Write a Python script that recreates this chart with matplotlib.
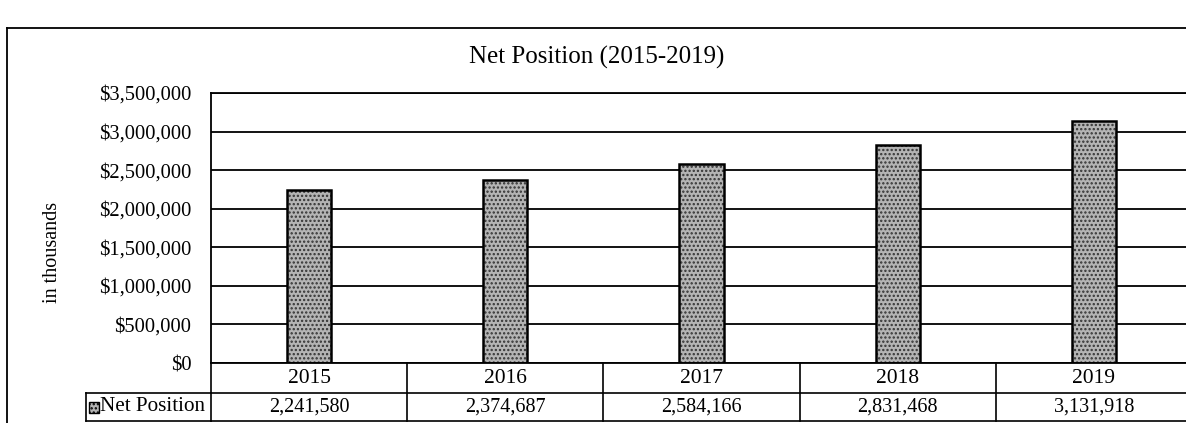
import matplotlib
matplotlib.use("Agg")
import matplotlib.pyplot as plt
import matplotlib.transforms as mtransforms
from matplotlib.lines import Line2D
from matplotlib.patches import Rectangle

years = ["2015", "2016", "2017", "2018", "2019"]
net_position = [2241580, 2374687, 2584166, 2831468, 3131918]
series_name = "Net Position"
y_ticks = [0, 500000, 1000000, 1500000, 2000000, 2500000, 3000000, 3500000]
title = "Net Position (2015-2019)"
y_label = "in thousands"

plt.rcParams["font.family"] = ["Liberation Serif", "DejaVu Serif"]
plt.rcParams["hatch.linewidth"] = 1.1

W, H = 1186, 423
fig = plt.figure(figsize=(W / 100, H / 100), dpi=100)


def fx(x):
    return x / W


def fy(y):
    return 1 - y / H


AX_L, AX_R, AX_T, AX_B = 211, 1192, 93, 363
ax = fig.add_axes([fx(AX_L), fy(AX_B), fx(AX_R) - fx(AX_L), fy(AX_T) - fy(AX_B)])
xs = list(range(len(years)))

# stippled fill, then a crisp outline on top
ax.bar(xs, net_position, width=0.225, color="#b4b4b4", edgecolor="#333333",
       hatch="....", linewidth=0, zorder=2)
ax.bar(xs, net_position, width=0.225, fill=False, edgecolor="black",
       linewidth=1.8, zorder=3)

ax.set_xlim(-0.5, len(years) - 0.5)
ax.set_ylim(0, y_ticks[-1])
ax.set_yticks(y_ticks)
ax.set_yticklabels([f"${v:,.0f}" for v in y_ticks])
ax.tick_params(axis="y", length=0, pad=14, labelsize=14.8)
ax.set_xticks([])
ax.grid(axis="y", color="black", linewidth=1.3, zorder=1)
ax.set_axisbelow(True)
for s in ax.spines.values():
    s.set_linewidth(1.3)
ax.spines["right"].set_visible(False)

ax_w_px = AX_R - AX_L
ax_h_px = AX_B - AX_T
ax.set_ylabel(y_label, fontsize=14.5)
ax.yaxis.set_label_coords((62 - AX_L) / ax_w_px, (AX_B - 252) / ax_h_px)

fig.text(fx(597), fy(57), title, ha="center", va="center", fontsize=18)

# data table under the plot area
blend = mtransforms.blended_transform_factory(ax.transData, ax.transAxes)
r0, r1, r2 = 0.0, -(393 - AX_B) / ax_h_px, -(421 - AX_B) / ax_h_px
lw = 1.2
n = len(years)
for r in (r1, r2):
    ax.add_line(Line2D([-0.5, n - 0.5], [r, r], transform=blend, color="black",
                       lw=lw, clip_on=False))
for k in range(n + 1):
    ax.add_line(Line2D([k - 0.5, k - 0.5], [r0, r2], transform=blend,
                       color="black", lw=lw, clip_on=False))
for i, (yr, v) in enumerate(zip(years, net_position)):
    ax.text(i, (r0 + r1) / 2, yr, transform=blend, ha="center", va="center",
            fontsize=15.5)
    ax.text(i, (r1 + r2) / 2, f"{v:,}", transform=blend, ha="center",
            va="center", fontsize=14.5)

# row header cell with legend key
fig.add_artist(Line2D([fx(86), fx(AX_L)], [fy(393), fy(393)], color="black", lw=lw))
fig.add_artist(Line2D([fx(86), fx(AX_L)], [fy(421), fy(421)], color="black", lw=lw))
fig.add_artist(Line2D([fx(86), fx(86)], [fy(393), fy(421)], color="black", lw=lw))
fig.add_artist(Rectangle((fx(89), fy(413)), fx(10), fy(402) - fy(413),
                         facecolor="#b4b4b4", edgecolor="black", hatch="....",
                         lw=1.0))
fig.text(fx(100), fy(406), series_name, ha="left", va="center", fontsize=15.2)

# outer chart frame
fig.add_artist(Line2D([fx(7), fx(1186)], [fy(28), fy(28)], color="black", lw=1.3))
fig.add_artist(Line2D([fx(7), fx(7)], [fy(28), fy(423)], color="black", lw=1.3))

fig.savefig("out.png", dpi=100)
